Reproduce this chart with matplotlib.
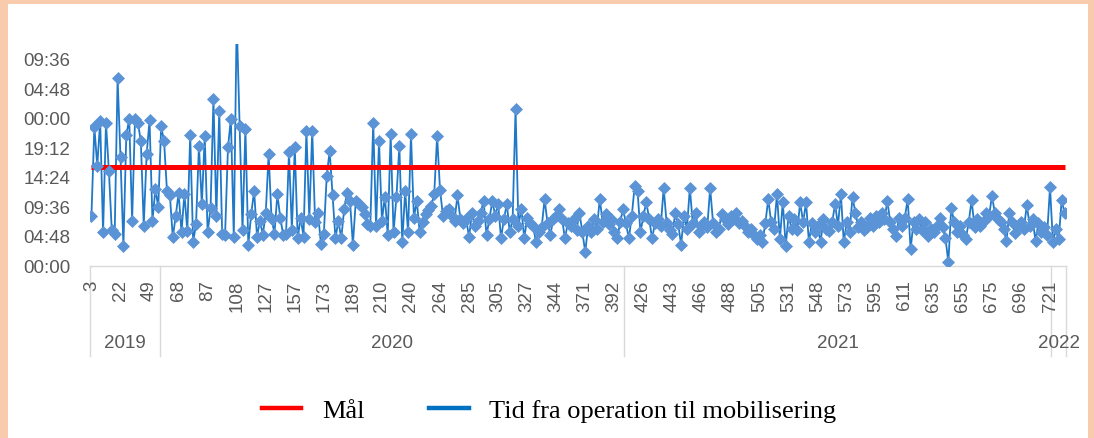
import matplotlib
matplotlib.use("Agg")
import matplotlib.pyplot as plt
import matplotlib.transforms as mtransforms
from matplotlib.lines import Line2D
from matplotlib.patches import Rectangle
from matplotlib.ticker import FuncFormatter
import numpy as np

# ---------------- data ----------------
years = ["2019", "2020", "2021", "2022"]

# hours from operation to mobilisation (values > 24 wrap to next day on axis)
v2019 = [8.1, 22.5, 16.2, 23.5, 5.4, 23.2, 15.4, 5.7, 5.2, 30.4,
         17.6, 3.2, 21.2, 23.8, 7.3, 23.8, 23.2, 20.2, 6.5, 18.1,
         23.6, 7.3, 12.4, 9.5]
v2020 = [22.6, 20.2, 12.1, 11.4, 4.6, 8.0,
         11.8, 5.4, 11.7, 5.6, 21.2, 3.8, 6.7, 19.4, 10.0, 21.0,
         5.4, 9.3, 27.0, 8.1, 25.1, 5.2, 5.0, 19.2, 23.8, 4.6,
         40.0, 22.7, 5.7, 22.2, 3.4, 8.4, 12.1, 4.7, 7.3, 5.0,
         8.5, 18.1, 7.6, 5.2, 11.6, 7.8, 5.0, 5.2, 18.4, 5.8,
         19.2, 4.4, 7.8, 4.7, 21.9, 7.6, 21.9, 7.0, 8.6, 3.5,
         5.2, 14.6, 18.6, 11.4, 4.4, 7.3, 4.4, 9.2, 11.8, 10.5,
         3.4, 10.5, 10.0, 9.5, 8.3, 6.7, 6.5, 23.2, 6.4, 20.2,
         7.3, 11.2, 5.0, 21.3, 5.4, 11.2, 19.4, 3.8, 12.1, 5.4,
         21.3, 7.8, 10.5, 5.4, 7.0, 8.4, 9.0, 9.7, 11.6, 21.0,
         12.3, 8.1, 8.8, 9.2, 8.0, 7.3, 11.4, 7.6, 6.9, 7.5,
         4.6, 8.6, 6.5, 7.2, 8.6, 10.5, 5.0, 7.5, 10.5, 8.1,
         10.0, 4.4, 7.6, 10.0, 5.4, 7.6, 25.4, 6.5, 9.2, 4.4,
         7.8, 6.9, 6.5, 3.9, 5.4, 6.2, 10.8, 6.9, 5.0, 7.6,
         8.0, 9.2, 7.6, 4.4, 6.9, 6.5, 7.6, 5.8, 8.6, 5.4,
         2.2, 6.5, 5.5, 7.6, 6.0, 10.8, 7.0, 8.3, 6.7, 7.6,
         5.4, 4.4, 7.0, 9.2]
v2021 = [6.9, 4.4, 8.0, 12.9, 12.1, 5.4,
         8.0, 10.3, 7.6, 4.4, 6.9, 7.5, 6.5, 12.6, 6.9, 5.8,
         5.2, 8.5, 6.7, 3.4, 8.1, 6.0, 12.6, 6.9, 8.5, 5.4,
         6.5, 7.0, 6.2, 12.6, 6.9, 5.4, 6.0, 8.4, 7.5, 6.8,
         8.1, 7.5, 8.6, 6.9, 7.2, 6.5, 5.5, 6.0, 5.0, 4.3,
         5.0, 3.8, 6.9, 10.8, 7.0, 6.0, 11.6, 4.3, 10.3, 3.2,
         8.1, 6.0, 7.5, 5.8, 10.3, 7.0, 10.3, 3.8, 6.9, 5.5,
         6.5, 3.8, 7.5, 6.0, 5.6, 7.0, 10.0, 6.5, 11.6, 3.8,
         7.0, 5.5, 11.1, 8.6, 6.3, 7.0, 5.8, 6.3, 7.8, 6.5,
         8.1, 7.0, 8.6, 7.5, 10.5, 7.0, 6.0, 4.8, 7.8, 6.5,
         7.8, 10.8, 2.7, 7.0, 6.0, 7.5, 5.8, 7.0, 4.8, 6.0,
         5.5, 6.5, 7.8, 6.3, 4.5, 0.5, 9.4, 7.0, 5.5, 6.5,
         5.0, 4.3, 7.0, 10.6, 6.3, 7.5, 6.5, 7.0, 8.5, 8.0,
         11.3, 8.6, 7.5, 7.0, 6.0, 4.0, 8.6, 7.0, 5.3, 6.5,
         7.0, 6.0, 9.8, 6.5, 7.5, 4.0, 6.9, 5.5, 6.3, 5.0,
         12.7]
v2022 = [3.8, 6.0, 4.3, 10.6, 8.6]

goal_hours = 16.0

tick_labels = ["3", "22", "49", "68", "87", "108", "127", "157", "173", "189",
               "210", "240", "264", "285", "305", "327", "344", "371", "392",
               "426", "443", "466", "488", "505", "531", "548", "573", "595",
               "611", "635", "655", "675", "696", "721"]
label_every = 10
y_ticks_hours = [0, 4.8, 9.6, 14.4, 19.2, 24.0, 28.8, 33.6]
y_max_hours = 36.0

series_name = "Tid fra operation til mobilisering"
goal_name = "Mål"

# ---------------- figure ----------------
W, H = 1094, 439
fig = plt.figure(figsize=(W / 100, H / 100), dpi=100, facecolor="#F8CBAD")
fig.patches.append(Rectangle((8 / W, 0), (1088 - 8) / W, (H - 5) / H,
                             transform=fig.transFigure, facecolor="white",
                             edgecolor="none", zorder=-5))

ax_left, ax_right, ax_top, ax_bot = 90, 1066, 45, 266.5
ax = fig.add_axes([ax_left / W, (H - ax_bot) / H, (ax_right - ax_left) / W,
                   (ax_bot - ax_top) / H])
ax.set_facecolor("white")

groups = [v2019, v2020, v2021, v2022]
values = np.concatenate([np.asarray(g, float) for g in groups])
N = len(values)
x = np.arange(N)

ax.plot(x, values, color="#1F78C8", lw=1.3, zorder=2)
ax.plot(x, np.full(N, goal_hours), color="#FF0000", lw=3.6, zorder=3,
        solid_capstyle="butt")
ax.plot(x, values, ls="none", marker="D", ms=6.2, mfc="#5B93D7",
        mec="#5B93D7", mew=0.5, zorder=4)

ax.set_xlim(-0.5, N - 0.5)
ax.set_ylim(0, y_max_hours)

for s in ["left", "top", "right"]:
    ax.spines[s].set_visible(False)
ax.spines["bottom"].set_color("#D9D9D9")
ax.spines["bottom"].set_linewidth(1.0)

txt_color = "#595959"
tick_font = "Liberation Sans"


def fmt(v, pos):
    total_min = int(round(v * 60)) % (24 * 60)
    return f"{total_min // 60:02d}:{total_min % 60:02d}"


ax.set_yticks(y_ticks_hours)
ax.yaxis.set_major_formatter(FuncFormatter(fmt))
ax.tick_params(axis="y", length=0, pad=14, labelsize=13.5, labelcolor=txt_color)
for t in ax.get_yticklabels():
    t.set_fontfamily(tick_font)

ax.set_xticks(np.arange(0, label_every * len(tick_labels), label_every))
ax.set_xticklabels(tick_labels, rotation=90, fontfamily=tick_font,
                   fontsize=13.5, color=txt_color)
ax.tick_params(axis="x", length=0, pad=10)

# year groups
trans = mtransforms.blended_transform_factory(ax.transData, ax.transAxes)
counts = [len(g) for g in groups]
edges = np.concatenate([[0], np.cumsum(counts)]) - 0.5
sep_depth = (357 - ax_bot) / (ax_bot - ax_top)
for e in edges:
    ax.plot([e, e], [0, -sep_depth], transform=trans, color="#D9D9D9",
            lw=1.0, clip_on=False, zorder=1)
year_y = -(344 - ax_bot) / (ax_bot - ax_top)
for i, yr in enumerate(years):
    ax.text((edges[i] + edges[i + 1]) / 2, year_y, yr, transform=trans,
            ha="center", va="center", fontsize=13.5, color=txt_color,
            fontfamily=tick_font)

# legend
handles = [Line2D([], [], color="#FF0000", lw=3.2),
           Line2D([], [], color="#0070C0", lw=3.2)]
fig.legend(handles, [goal_name, series_name], loc="center",
           bbox_to_anchor=(549 / W, (H - 411) / H), ncol=2, frameon=False,
           prop={"family": "Liberation Serif", "size": 19},
           handlelength=1.5, handletextpad=0.78, columnspacing=2.45)

fig.savefig("out.png", dpi=100, facecolor=fig.get_facecolor())
